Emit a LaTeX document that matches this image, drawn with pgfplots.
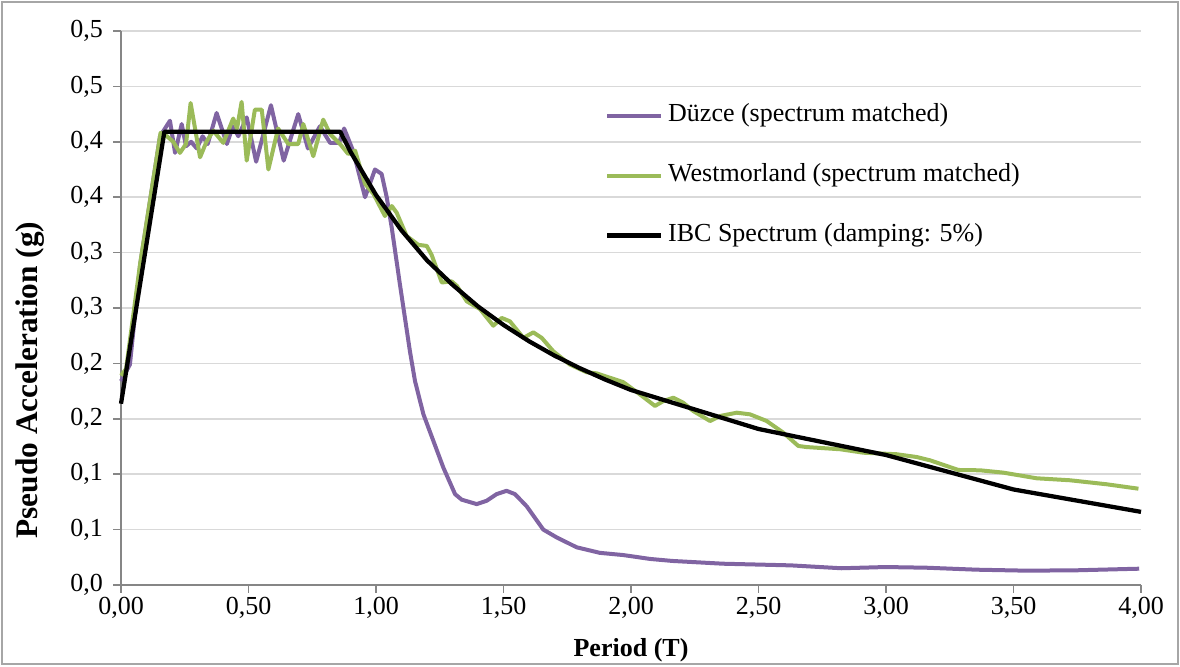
\documentclass[border=0pt]{standalone}
\usepackage{pgfplots}
\pgfplotsset{compat=1.18}
\usepackage{fontspec}
\setmainfont{Liberation Serif}
\definecolor{duzce}{HTML}{8064A2}
\definecolor{westm}{HTML}{9BBB59}
\definecolor{gridc}{HTML}{D9D9D9}
\definecolor{axisc}{HTML}{868686}
\definecolor{framec}{HTML}{A6A6A6}

\begin{document}
\begin{tikzpicture}
\begin{axis}[
  name=ax,
  scale only axis,
  width=765pt, height=415.5pt,
  xmin=0, xmax=4, ymin=0, ymax=0.5,
  clip=false,
  axis lines*=left,
  axis line style={draw=axisc, line width=1.2pt},
  xtick={0,0.5,1,1.5,2,2.5,3,3.5,4},
  xticklabels={{0,00},{0,50},{1,00},{1,50},{2,00},{2,50},{3,00},{3,50},{4,00}},
  ytick={0,0.05,0.1,0.15,0.2,0.25,0.3,0.35,0.4,0.45,0.5},
  yticklabels={{0,0},{0,1},{0,1},{0,2},{0,2},{0,3},{0,3},{0,4},{0,4},{0,5},{0,5}},
  tick align=outside,
  major tick length=6pt,
  tick style={draw=axisc, line width=1.2pt},
  ymajorgrids,
  major grid style={draw=gridc, line width=1.3pt},
  tick label style={font=\fontsize{19.5}{20}\selectfont},
  yticklabel style={xshift=-4pt},
  xlabel={Period (T)},
  ylabel={Pseudo Acceleration (g)},
  xlabel style={font=\bfseries\fontsize{19.5}{20}\selectfont, at={(axis description cs:0.5,0)}, anchor=center, yshift=-48.75pt},
  ylabel style={font=\bfseries\fontsize{23.5}{24}\selectfont, at={(axis description cs:0,0.37)}, anchor=center, yshift=68pt},
  legend cell align=left,
  legend style={at={(rel axis cs:0.4745,0.870)}, anchor=north west,
    draw=none, fill=none, inner sep=0pt, row sep=26.5pt,
    font=\fontsize{19.5}{20}\selectfont,
    nodes={inner sep=0pt, text height=14pt, text depth=4.5pt},
    /tikz/every odd column/.append style={column sep=4pt}},
  legend image code/.code={\draw[#1] (0pt,0pt) -- (40pt,0pt);},
]
\addplot[duzce, line width=3pt, line join=round] coordinates {
(0.000,0.184) (0.035,0.199) (0.075,0.289) (0.153,0.405) (0.192,0.419)
(0.212,0.390) (0.238,0.416) (0.255,0.396) (0.275,0.400) (0.297,0.394)
(0.320,0.405) (0.340,0.398) (0.375,0.426) (0.415,0.398) (0.439,0.414)
(0.460,0.405) (0.493,0.422) (0.530,0.382) (0.588,0.433) (0.638,0.383)
(0.695,0.425) (0.733,0.394) (0.780,0.414) (0.820,0.399) (0.855,0.399)
(0.875,0.412) (0.910,0.392) (0.957,0.350) (0.996,0.375) (1.022,0.371)
(1.042,0.350) (1.062,0.322) (1.094,0.271) (1.133,0.211) (1.153,0.184)
(1.186,0.154) (1.225,0.130) (1.264,0.106) (1.310,0.082) (1.336,0.077)
(1.395,0.073) (1.434,0.076) (1.473,0.082) (1.512,0.085) (1.545,0.082)
(1.591,0.071) (1.656,0.050) (1.708,0.043) (1.787,0.034) (1.878,0.029)
(1.970,0.027) (2.075,0.0235) (2.162,0.0217) (2.361,0.0192) (2.627,0.0177)
(2.825,0.0151) (2.998,0.0162) (3.157,0.0156) (3.356,0.0138) (3.555,0.0129)
(3.754,0.0133) (3.993,0.0147)
};
\addlegendentry{Düzce (spectrum matched)}
\addplot[westm, line width=3pt, line join=round] coordinates {
(0.000,0.189) (0.020,0.195) (0.075,0.290) (0.155,0.408) (0.180,0.405)
(0.205,0.400) (0.231,0.390) (0.255,0.398) (0.273,0.435) (0.310,0.386)
(0.335,0.400) (0.362,0.410) (0.401,0.399) (0.440,0.421) (0.455,0.412)
(0.473,0.436) (0.493,0.383) (0.525,0.429) (0.552,0.429) (0.578,0.375)
(0.616,0.412) (0.656,0.398) (0.695,0.398) (0.715,0.416) (0.754,0.387)
(0.793,0.420) (0.820,0.407) (0.859,0.398) (0.891,0.389) (0.918,0.392)
(0.957,0.362) (0.990,0.353) (1.035,0.333) (1.062,0.342) (1.081,0.336)
(1.120,0.315) (1.166,0.307) (1.199,0.306) (1.218,0.298) (1.258,0.273)
(1.297,0.274) (1.317,0.270) (1.356,0.256) (1.408,0.249) (1.460,0.234)
(1.493,0.241) (1.525,0.238) (1.578,0.223) (1.617,0.228) (1.650,0.223)
(1.695,0.211) (1.760,0.199) (1.826,0.192) (1.865,0.191) (1.931,0.186)
(1.970,0.183) (2.035,0.172) (2.094,0.1616) (2.127,0.166) (2.166,0.169)
(2.205,0.1645) (2.244,0.157) (2.310,0.148) (2.349,0.1525) (2.415,0.1555)
(2.467,0.154) (2.532,0.148) (2.597,0.1375) (2.656,0.1255) (2.688,0.1245)
(2.820,0.1225) (2.911,0.1194) (3.042,0.118) (3.120,0.1155) (3.173,0.1125)
(3.284,0.1038) (3.369,0.1035) (3.460,0.1014) (3.591,0.0963) (3.722,0.0945)
(3.865,0.0909) (3.990,0.0869)
};
\addlegendentry{Westmorland (spectrum matched)}
\addplot[black, line width=3.2pt, line join=round] coordinates {
(0.000,0.1636) (0.170,0.409) (0.860,0.409) (0.900,0.391) (1.000,0.352)
(1.100,0.320) (1.200,0.293) (1.300,0.271) (1.400,0.2514) (1.500,0.2347)
(1.600,0.220) (1.700,0.207) (1.800,0.1956) (1.900,0.1853) (2.000,0.176)
(2.500,0.1408) (3.000,0.1173) (3.500,0.0862) (4.000,0.066)
};
\addlegendentry{IBC Spectrum (damping: 5\%)}
\coordinate (bl) at (rel axis cs:-0.11863,-0.14621);
\coordinate (tr) at (rel axis cs:1.03824,1.05596);
\end{axis}
\draw[framec, line width=0.9pt] ([shift={(1.5pt,1.5pt)}]bl) rectangle ([shift={(-1.5pt,-1.5pt)}]tr);
\path[use as bounding box] (bl) rectangle (tr);
\end{tikzpicture}
\end{document}
